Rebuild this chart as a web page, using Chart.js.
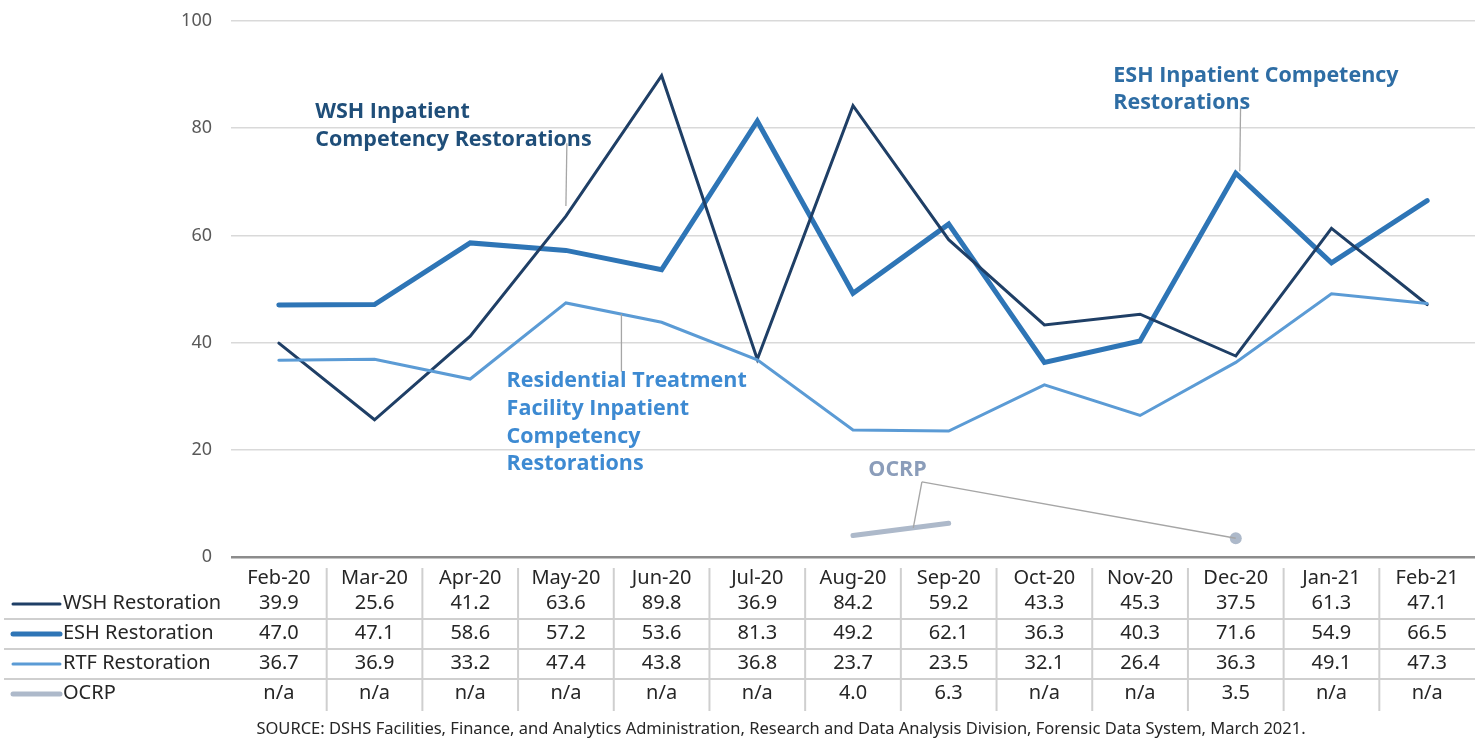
<!DOCTYPE html>
<html>
<head>
<meta charset="utf-8">
<script src="https://cdn.jsdelivr.net/npm/chart.js@4.4.1/dist/chart.umd.min.js"></script>
<style>
  html, body { margin: 0; padding: 0; background: #ffffff; }
  #wrap { width: 1480px; height: 742px; position: relative; }
</style>
</head>
<body>
<div id="wrap"><canvas id="chart" width="1480" height="742"></canvas></div>
<script>
// months shown along the bottom table
var months = ['Feb-20', 'Mar-20', 'Apr-20', 'May-20', 'Jun-20', 'Jul-20', 'Aug-20',
              'Sep-20', 'Oct-20', 'Nov-20', 'Dec-20', 'Jan-21', 'Feb-21'];

var wshValues = [39.9, 25.6, 41.2, 63.6, 89.8, 36.9, 84.2, 59.2, 43.3, 45.3, 37.5, 61.3, 47.1];
var eshValues = [47.0, 47.1, 58.6, 57.2, 53.6, 81.3, 49.2, 62.1, 36.3, 40.3, 71.6, 54.9, 66.5];
var rtfValues = [36.7, 36.9, 33.2, 47.4, 43.8, 36.8, 23.7, 23.5, 32.1, 26.4, 36.3, 49.1, 47.3];
// null = n/a
var ocrpValues = [null, null, null, null, null, null, 4.0, 6.3, null, null, 3.5, null, null];

var yTicks = [0, 20, 40, 60, 80, 100];

var seriesNames = ['WSH Restoration', 'ESH Restoration', 'RTF Restoration', 'OCRP'];
var seriesColors = ['#1f3f66', '#2e75b6', '#5b9bd5', '#adb9ca'];
var seriesWidths = [3, 5, 3, 5];

var sourceNote = 'SOURCE: DSHS Facilities, Finance, and Analytics Administration, Research and Data Analysis Division, Forensic Data System, March 2021.';

// callout labels: text anchor in (category index, value), leader goes to a point on a series
var callouts = [
  { lines: ['WSH Inpatient', 'Competency Restorations'], color: '#1f4e79',
    at: [0.38, 83.0], from: [3.01, 77.2], to: { s: 0, i: 3, f: 0, dy: -10 } },
  { lines: ['ESH Inpatient Competency', 'Restorations'], color: '#2e6da4',
    at: [8.72, 89.8], from: [10.05, 83.8], to: { s: 1, i: 10, f: 0, dx: 4, dy: -2 } },
  { lines: ['Residential Treatment', 'Facility Inpatient', 'Competency', 'Restorations'], color: '#3d8ad2',
    at: [2.38, 32.8], from: [3.58, 34.6], to: { s: 2, i: 3, f: 0.58, dy: 0 } },
  { lines: ['OCRP'], color: '#8b9dba',
    at: [6.16, 16.3], from: [6.72, 14.0], to: { s: 3, i: 6, f: 0.63, dy: 0 }, to2: { s: 3, i: 10, f: 0, dy: 0 } }
];

var allSeries = [wshValues, eshValues, rtfValues, ocrpValues];

function seriesPoint(chart, t) {
  var xs = chart.scales.x, ys = chart.scales.y;
  var vals = allSeries[t.s];
  var x0 = xs.getPixelForValue(t.i), y0 = ys.getPixelForValue(vals[t.i]);
  var x = x0, y = y0;
  if (t.f) {
    var x1 = xs.getPixelForValue(t.i + 1), y1 = ys.getPixelForValue(vals[t.i + 1]);
    x = x0 + (x1 - x0) * t.f;
    y = y0 + (y1 - y0) * t.f;
  }
  return [x + (t.dx || 0), y + (t.dy || 0)];
}

var calloutPlugin = {
  id: 'callouts',
  afterDatasetsDraw: function(chart) {
    var ctx = chart.ctx, xs = chart.scales.x, ys = chart.scales.y;
    ctx.save();
    callouts.forEach(function(c) {
      var fx = xs.getPixelForValue(c.from[0]), fy = ys.getPixelForValue(c.from[1]);
      ctx.strokeStyle = '#a6a6a6';
      ctx.lineWidth = 1.3;
      [c.to, c.to2].forEach(function(t) {
        if (!t) return;
        var p = seriesPoint(chart, t);
        ctx.beginPath();
        ctx.moveTo(fx, fy);
        ctx.lineTo(p[0], p[1]);
        ctx.stroke();
      });
      ctx.fillStyle = c.color;
      ctx.font = 'bold 21.5px "Open Sans"';
      ctx.textBaseline = 'middle';
      ctx.textAlign = 'left';
      var tx = xs.getPixelForValue(c.at[0]), ty = ys.getPixelForValue(c.at[1]);
      c.lines.forEach(function(line, k) {
        ctx.fillText(line, tx, ty + k * 27.7);
      });
    });
    ctx.restore();
  }
};

var tablePlugin = {
  id: 'dataTable',
  afterDraw: function(chart) {
    var ctx = chart.ctx, xs = chart.scales.x;
    var n = months.length;
    var colW = xs.getPixelForValue(1) - xs.getPixelForValue(0);
    var headerY = 578;
    var rowY = [603, 633, 663, 693];
    var rowLines = [619, 649, 679];
    ctx.save();
    // grid of the table
    ctx.strokeStyle = '#cfcfcf';
    ctx.lineWidth = 2;
    for (var i = 0; i < n - 1; i++) {
      var sx = xs.getPixelForValue(i) + colW / 2;
      ctx.beginPath();
      ctx.moveTo(sx, 568);
      ctx.lineTo(sx, 711);
      ctx.stroke();
    }
    rowLines.forEach(function(y) {
      ctx.beginPath();
      ctx.moveTo(4, y);
      ctx.lineTo(chart.chartArea.right, y);
      ctx.stroke();
    });
    ctx.fillStyle = '#262626';
    ctx.textBaseline = 'middle';
    ctx.textAlign = 'center';
    ctx.font = '20px "Noto Sans"';
    months.forEach(function(m, i) {
      ctx.fillText(m, xs.getPixelForValue(i), headerY);
    });
    allSeries.forEach(function(vals, r) {
      vals.forEach(function(v, i) {
        ctx.fillText(v === null ? 'n/a' : v.toFixed(1), xs.getPixelForValue(i), rowY[r]);
      });
    });
    // legend keys
    ctx.textAlign = 'left';
    seriesNames.forEach(function(name, r) {
      ctx.strokeStyle = seriesColors[r];
      ctx.lineWidth = seriesWidths[r];
      ctx.lineCap = 'round';
      ctx.beginPath();
      ctx.moveTo(13, rowY[r] + 1);
      ctx.lineTo(60, rowY[r] + 1);
      ctx.stroke();
      ctx.fillText(name, 63, rowY[r]);
    });
    ctx.font = '16.5px "Noto Sans"';
    ctx.textAlign = 'center';
    ctx.fillText(sourceNote, 781, 729);
    ctx.restore();
  }
};

function makeSet(label, data, idx, extra) {
  var ds = {
    label: label,
    data: data,
    borderColor: seriesColors[idx],
    backgroundColor: seriesColors[idx],
    borderWidth: seriesWidths[idx],
    pointRadius: 0,
    pointHoverRadius: 0,
    tension: 0,
    fill: false,
    spanGaps: false,
    borderCapStyle: 'round',
    borderJoinStyle: 'miter'
  };
  return Object.assign(ds, extra || {});
}

var ctx = document.getElementById('chart').getContext('2d');
var chart = new Chart(ctx, {
  type: 'line',
  data: {
    labels: months,
    datasets: [
      makeSet(seriesNames[3], ocrpValues, 3, {
        pointRadius: function(c) {
          var i = c.dataIndex;
          var v = ocrpValues[i];
          var isolated = v !== null && ocrpValues[i - 1] == null && ocrpValues[i + 1] == null;
          return isolated ? 6 : 0;
        },
        pointBorderWidth: 0
      }),
      makeSet(seriesNames[2], rtfValues, 2),
      makeSet(seriesNames[0], wshValues, 0),
      makeSet(seriesNames[1], eshValues, 1)
    ]
  },
  options: {
    responsive: false,
    animation: false,
    events: [],
    layout: { padding: { top: 21, right: 5, bottom: 185, left: 0 } },
    plugins: {
      legend: { display: false },
      tooltip: { enabled: false }
    },
    scales: {
      x: {
        type: 'category',
        offset: true,
        display: false
      },
      y: {
        min: 0,
        max: 100,
        afterFit: function(scale) {
          scale.width = 231;
          scale.paddingTop = 0;
          scale.paddingBottom = 0;
        },
        afterBuildTicks: function(scale) {
          scale.ticks = yTicks.map(function(v) { return { value: v }; });
        },
        border: { display: false },
        grid: {
          drawTicks: false,
          color: function(c) { return c.tick && c.tick.value === 0 ? '#8c8c8c' : '#d9d9d9'; },
          lineWidth: function(c) { return c.tick && c.tick.value === 0 ? 2.5 : 1.5; }
        },
        ticks: {
          padding: 19,
          color: '#595959',
          font: { family: 'Noto Sans', size: 18 }
        }
      }
    }
  },
  plugins: [calloutPlugin, tablePlugin]
});
</script>
</body>
</html>
